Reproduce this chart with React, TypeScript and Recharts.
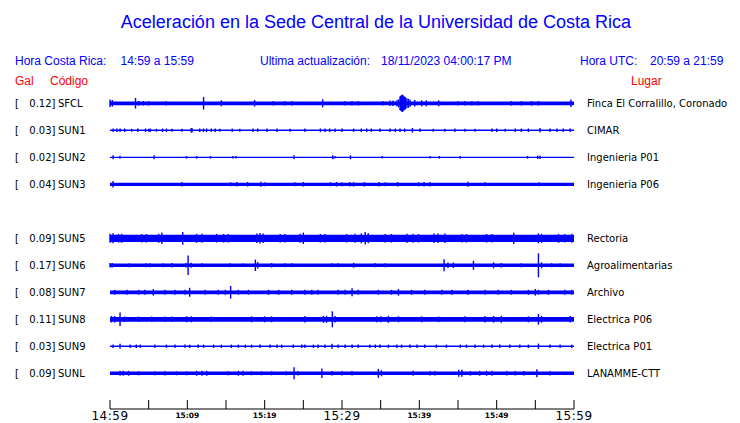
import { ComposedChart, Scatter, ErrorBar, ReferenceArea, XAxis, YAxis } from 'recharts'

type Spike = [number, number]

// estaciones (SUN4 sin datos -> fila vacía)
const STATIONS = ['SFCL', 'SUN1', 'SUN2', 'SUN3', 'SUN5', 'SUN6', 'SUN7', 'SUN8', 'SUN9', 'SUNL']
const ROW_SLOT = [0, 1, 2, 3, 5, 6, 7, 8, 9, 10]
const PEAK_GAL = ['0.12', '0.03', '0.02', '0.04', '0.09', '0.17', '0.08', '0.11', '0.03', '0.09']
const PLACES = [
  'Finca El Corralillo, Coronado',
  'CIMAR',
  'Ingenieria P01',
  'Ingenieria P06',
  'Rectoria',
  'Agroalimentarias',
  'Archivo',
  'Electrica P06',
  'Electrica P01',
  'LANAMME-CTT',
]
// nivel de ruido (semi-amplitud) de cada traza
const NOISE = [1.9, 0.8, 0.6, 1.6, 3.6, 1.7, 1.9, 2.4, 0.8, 1.8]

// picos: [minuto desde 14:59, semi-amplitud]
const SFCL: Spike[] = [
  [0, 3.7], [0.3, 3.3], [3.3, 5.3], [3.7, 2.3], [4.3, 2.3], [5.0, 2.3], [7.2, 2.2], [12.1, 6.3],
  [14.4, 3], [18.7, 3.3], [21.1, 2.3], [22.6, 2.2], [23.5, 2.2], [27.5, 4], [30.4, 2.3], [31.3, 2.3],
  [32.1, 2.3], [35.3, 2.3], [36.2, 2.7], [36.6, 2.7], [37.1, 3], [37.3, 4], [37.5, 6.7], [37.6, 7.5],
  [37.7, 8], [37.8, 8.7], [37.9, 8], [38.0, 7], [38.1, 6.5], [38.2, 6], [38.4, 5], [38.6, 4.5],
  [38.8, 3.5], [39.4, 3.3], [40.3, 3], [40.9, 3], [42.5, 3], [45.0, 2.3], [45.9, 2.3], [46.8, 2.3],
  [47.6, 2.3], [51.9, 2.3], [53.2, 2.3], [54.5, 2.3], [55.4, 2.3], [59.6, 3.7],
]
const SUN1: Spike[] = [
  [0.4, 1.8], [0.9, 1.8], [1.3, 1.8], [1.9, 1.8], [2.8, 1.5], [3.6, 1.8], [4.6, 1.8], [5.0, 1.5],
  [5.2, 1.8], [6.0, 1.5], [6.8, 1.8], [7.3, 1.8], [8.0, 1.5], [9.3, 1.5], [10.5, 2.3], [10.6, 2.3],
  [11.6, 1.8], [12.1, 1.8], [12.5, 1.8], [13.1, 1.8], [13.6, 1.8], [14.2, 1.5], [15.8, 1.8], [16.8, 1.5],
  [18.5, 1.8], [19.1, 1.8], [20.3, 1.8], [21.6, 1.8], [23.3, 1.5], [25.2, 1.8], [27.2, 1.8], [27.8, 1.8],
  [28.4, 1.8], [29.1, 1.8], [30.0, 1.8], [31.5, 1.8], [32.5, 1.8], [33.2, 1.8], [33.8, 1.8], [34.9, 1.8],
  [36.2, 1.8], [36.9, 1.8], [37.5, 1.8], [38.1, 1.8], [39.1, 2.3], [40.1, 1.8], [41.8, 1.5], [43.3, 1.5],
  [44.6, 1.8], [45.9, 1.5], [47.2, 1.5], [49.4, 1.8], [50.0, 1.8], [51.1, 1.5], [52.4, 1.8], [53.2, 1.8],
  [54.1, 1.8], [55.6, 2.3], [56.9, 1.8], [57.8, 1.8], [58.6, 1.8], [59.5, 1.8],
]
const SUN2: Spike[] = [
  [0.4, 2], [1.3, 1.5], [5.7, 2], [9.9, 1.3], [11.2, 1.3], [13.0, 1.3], [15.9, 1.3], [16.3, 1.3],
  [23.8, 2], [28.8, 2], [29.1, 1.3], [31.1, 2], [35.2, 1.3], [41.4, 1.3], [42.6, 1.3], [45.3, 1.3],
  [54.0, 1.3], [55.3, 1.7], [55.6, 1.7],
]
const SUN3: Spike[] = [
  [0.4, 3.3], [9.3, 2.3], [15.6, 2], [16.4, 2.3], [17.8, 2.3], [19.5, 2.5], [20.0, 2], [23.9, 2],
  [25.0, 2.3], [28.5, 2], [29.3, 2.3], [30.0, 2], [31.0, 2.3], [31.5, 2.3], [32.9, 2.3], [34.8, 2.3],
  [35.6, 2], [37.2, 2.3], [39.9, 2], [40.6, 2.3], [41.4, 2.3], [46.3, 2.5], [48.5, 2], [55.5, 2],
]
const SUN5: Spike[] = [
  [0, 4.5], [0.4, 5], [1.1, 4.3], [1.5, 4.5], [4.1, 4.3], [4.7, 4.3], [6.3, 4.5], [6.7, 5.7],
  [9.4, 6.3], [11.2, 4.5], [11.9, 4.5], [13.8, 4.3], [14.7, 4.3], [15.3, 4.3], [19.0, 4.8], [19.4, 5.3],
  [19.8, 4.8], [22.0, 4.3], [22.6, 4.3], [24.6, 4.5], [25.0, 5.7], [27.2, 4.3], [27.8, 4.3], [30.6, 4.3],
  [31.7, 4.5], [32.5, 5], [33.0, 6.2], [33.4, 5], [35.6, 4.3], [36.4, 4.3], [38.4, 4.5], [39.2, 4.5],
  [39.9, 4.3], [41.9, 4.8], [42.4, 4.8], [43.3, 4.7], [45.5, 4.3], [46.1, 4.3], [48.7, 4.3], [49.4, 4.3],
  [52.2, 5.7], [55.4, 5], [55.8, 4.5], [58.0, 4.5], [58.8, 4.3], [59.7, 4.5],
]
const SUN6: Spike[] = [
  [0, 2.3], [0.3, 2.3], [2.5, 2], [4.7, 2], [5.2, 2], [6.9, 2], [8.0, 2.3], [9.8, 2.3],
  [10.1, 9.8], [10.5, 2.5], [11.9, 2], [15.5, 2], [17.2, 1.8], [18.8, 5.7], [19.1, 3.3], [20.9, 2.3],
  [22.6, 2], [23.5, 2], [28.7, 2], [29.5, 2], [31.5, 2.5], [34.3, 2], [35.6, 2], [43.2, 6],
  [43.7, 2.8], [44.4, 2.8], [47.0, 4.5], [49.6, 3], [50.6, 2.3], [53.2, 2], [55.4, 12], [55.8, 3],
  [57.1, 2], [58.2, 2],
]
const SUN7: Spike[] = [
  [0.6, 2.5], [2.2, 2.5], [3.7, 2.5], [4.5, 2.5], [5.6, 3.3], [7.1, 2.5], [8.4, 2.5], [9.7, 2.5],
  [10.3, 4.5], [12.3, 2.5], [14.0, 2.5], [14.9, 2.5], [15.6, 6.3], [16.6, 2.5], [17.9, 2.5], [20.5, 2.5],
  [21.8, 2.5], [23.5, 2.5], [25.2, 2.5], [26.1, 2.5], [26.9, 2.5], [29.5, 2.5], [30.4, 2.5], [31.3, 4],
  [32.1, 2.5], [34.7, 2.5], [36.4, 2.5], [37.3, 3.3], [39.0, 2.5], [40.7, 2.5], [42.9, 2.5], [44.2, 2.5],
  [46.3, 2.5], [48.5, 2.5], [50.2, 2.5], [51.9, 2.5], [54.1, 2.5], [55.0, 3.3], [55.4, 2.5], [56.7, 2.5],
  [58.8, 2.5], [59.7, 2.5],
]
const SUN8: Spike[] = [
  [0.2, 3.3], [0.6, 3.3], [1.3, 6.8], [1.9, 2.8], [3.7, 2.8], [5.4, 2.8], [7.1, 2.8], [8.0, 2.8],
  [9.9, 3], [10.5, 3], [13.1, 2.8], [18.3, 3], [20.0, 3], [20.9, 3], [25.2, 3.3], [27.6, 3.5],
  [28.0, 3.5], [28.75, 8], [29.1, 3.3], [34.5, 3], [35.0, 3], [36.0, 3.5], [37.3, 3], [40.3, 3],
  [42.5, 2.8], [45.9, 3], [48.5, 3.3], [49.6, 3.3], [50.6, 3.5], [54.1, 3], [55.4, 5.3], [55.8, 3.5],
  [59.5, 3.3],
]
const SUN9: Spike[] = [
  [0.4, 1.7], [1.3, 2.5], [2.6, 1.7], [3.4, 1.7], [3.9, 1.7], [5.8, 1.7], [7.3, 1.7], [8.4, 1.7],
  [9.7, 1.7], [10.3, 1.7], [11.4, 1.7], [12.1, 1.7], [13.4, 1.7], [14.4, 1.7], [15.7, 1.7], [16.6, 1.7],
  [17.5, 1.7], [18.3, 1.7], [19.4, 1.7], [20.7, 1.7], [21.6, 1.7], [22.2, 1.7], [23.7, 1.7], [24.8, 1.7],
  [25.2, 1.7], [26.3, 1.7], [26.9, 1.7], [27.8, 1.7], [28.7, 2.5], [29.5, 1.7], [30.4, 1.7], [31.3, 1.7],
  [32.1, 1.7], [33.6, 1.7], [34.3, 1.7], [34.9, 1.7], [36.0, 1.7], [37.1, 1.7], [37.7, 1.7], [38.8, 1.7],
  [39.7, 1.7], [40.7, 1.7], [42.2, 1.7], [43.5, 1.7], [45.3, 1.7], [46.1, 1.7], [47.2, 1.7], [48.3, 1.7],
  [49.4, 1.7], [50.4, 1.7], [51.7, 1.7], [53.0, 1.7], [54.1, 1.7], [55.4, 2.7], [56.9, 1.7], [58.2, 1.7],
  [59.7, 1.7],
]
const SUNL: Spike[] = [
  [1.3, 2.5], [1.7, 2.5], [2.4, 2.5], [3.7, 2], [5.8, 2], [7.1, 2.3], [8.6, 2], [9.9, 2],
  [11.2, 2.5], [11.9, 2.5], [12.5, 2.5], [15.3, 2], [16.6, 2.5], [17.2, 2.5], [18.3, 2], [19.6, 2],
  [20.9, 2], [22.8, 2], [23.8, 6], [24.3, 2.3], [27.4, 4.7], [28.7, 2.3], [30.0, 2.3], [31.3, 2.3],
  [34.7, 4.5], [35.1, 3], [39.2, 2.5], [41.4, 2.3], [42.0, 2.3], [45.1, 3.5], [45.5, 3.5], [46.6, 2.3],
  [47.8, 2.5], [48.7, 2.5], [49.4, 2.5], [51.3, 2.3], [52.4, 2.3], [53.5, 2.3], [55.2, 4], [56.9, 2.3],
]
const SPIKES: Spike[][] = [SFCL, SUN1, SUN2, SUN3, SUN5, SUN6, SUN7, SUN8, SUN9, SUNL]

// eje de tiempo (minutos desde 14:59)
const TICK_MIN = [0, 5, 10, 15, 20, 25, 30, 35, 40, 45, 50, 55, 60]
const TICK_LABELS = ['14:59', '', '15:09', '', '15:19', '', '15:29', '', '15:39', '', '15:49', '', '15:59']
const BIG_TICKS = ['14:59', '15:29', '15:59']

const W = 740
const H = 423
const GAP = 27
const BLUE = '#0000ff'
const RED = '#ff0000'
const SANS = '"Liberation Sans", Arial, sans-serif'
const DEJAVU = '"DejaVu Sans", sans-serif'

const baseOf = (i: number) => (10 - ROW_SLOT[i]) * GAP

function TimeTick(props: any) {
  const { x, y, payload } = props
  const label = TICK_LABELS[TICK_MIN.indexOf(payload.value)]
  const big = BIG_TICKS.includes(label)
  return (
    <g>
      <line x1={x} x2={x} y1={y - 9} y2={y} stroke="#000" />
      {label && (
        <text
          x={x}
          y={big ? y + 11 : y + 9}
          textAnchor="middle"
          fontFamily={DEJAVU}
          fontSize={big ? 12 : 7.5}
          fontWeight={big ? 'normal' : 'bold'}
          letterSpacing={big ? 0.5 : 0}
          fill="#000"
        >
          {label}
        </text>
      )}
    </g>
  )
}

export default function App() {
  return (
    <div style={{ position: 'absolute', left: 0, top: 0, width: W, height: H, background: '#fff' }}>
      <ComposedChart width={W} height={H} margin={{ top: 90, right: 166, bottom: 0, left: 110 }}>
        <XAxis
          type="number"
          dataKey="t"
          domain={[0, 60]}
          ticks={TICK_MIN}
          interval={0}
          allowDataOverflow
          tickSize={0}
          tickMargin={0}
          height={14}
          tickLine={false}
          axisLine={{ stroke: '#000' }}
          tick={<TimeTick />}
        />
        <YAxis type="number" dataKey="y" domain={[-35.7, 283.3]} allowDataOverflow hide />
        {STATIONS.map((s, i) => (
          <ReferenceArea
            key={`band-${s}`}
            x1={0}
            x2={60}
            y1={baseOf(i) - NOISE[i]}
            y2={baseOf(i) + NOISE[i]}
            fill={BLUE}
            fillOpacity={1}
            stroke="none"
          />
        ))}
        {STATIONS.map((s, i) => (
          <Scatter
            key={`sp-${s}`}
            name={s}
            data={SPIKES[i].map(([t, amp]) => ({ t, y: baseOf(i), amp }))}
            isAnimationActive={false}
            shape={() => <g />}
          >
            <ErrorBar dataKey="amp" direction="y" width={0} stroke={BLUE} strokeWidth={1.4} isAnimationActive={false} />
          </Scatter>
        ))}
      </ComposedChart>

      <svg width={W} height={H} style={{ position: 'absolute', left: 0, top: 0, pointerEvents: 'none' }}>
        <text x={376} y={28} textAnchor="middle" fontFamily={SANS} fontSize={18} fill={BLUE}>
          Aceleración en la Sede Central de la Universidad de Costa Rica
        </text>
        <g fontFamily={SANS} fontSize={12} fill={BLUE}>
          <text x={15} y={65}>Hora Costa Rica:</text>
          <text x={120.5} y={65}>14:59 a 15:59</text>
          <text x={260} y={65}>Ultima actualización:</text>
          <text x={381} y={65}>18/11/2023 04:00:17 PM</text>
          <text x={580} y={65}>Hora UTC:</text>
          <text x={650} y={65}>20:59 a 21:59</text>
        </g>
        <g fontFamily={SANS} fontSize={12} fill={RED}>
          <text x={15} y={85}>Gal</text>
          <text x={50} y={85}>Código</text>
          <text x={631} y={85}>Lugar</text>
        </g>
        <g fontFamily={DEJAVU} fontSize={10} fill="#000">
          {STATIONS.map((s, i) => {
            const by = 106.7 + ROW_SLOT[i] * GAP
            return (
              <g key={`lbl-${s}`}>
                <text x={15} y={by}>[</text>
                <text x={55.5} y={by} textAnchor="end">{PEAK_GAL[i]}]</text>
                <text x={58} y={by}>{s}</text>
                <text x={587} y={by}>{PLACES[i]}</text>
              </g>
            )
          })}
        </g>
      </svg>
    </div>
  )
}
